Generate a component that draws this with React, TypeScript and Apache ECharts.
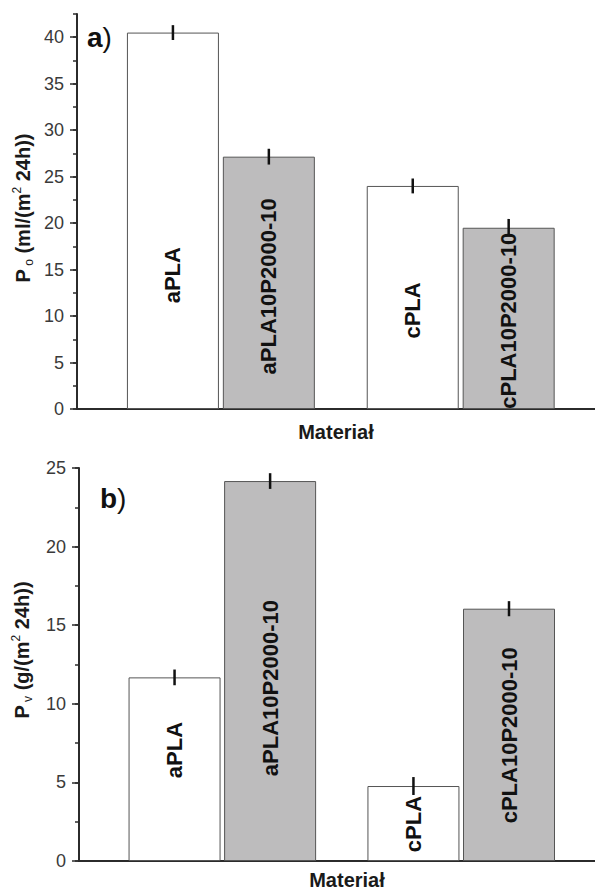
import React, { useEffect, useRef } from 'react';
import * as echarts from 'echarts';

const materials = ['aPLA', 'aPLA10P2000-10', 'cPLA', 'cPLA10P2000-10'];
const xPositions = [1, 2, 3.5, 4.5];
const oxygenPerm = [40.5, 27.15, 24.0, 19.5];
const oxygenErr = [0.8, 0.85, 0.8, 0.95];
const vaporPerm = [11.68, 24.17, 4.77, 16.05];
const vaporErr = [0.5, 0.5, 0.57, 0.48];
const oxygenLabelAt = [14.4, 13.2, 10.6, 9.5];
const vaporLabelAt = [7.06, 11.0, 2.35, 8.0];

const FONT = "'Liberation Sans', Arial, sans-serif";
const FILLS = ['#ffffff', '#bdbcbd', '#ffffff', '#bdbcbd'];
const AXIS_COLOR = '#2b2b2b';

function makeYAxes(gridIndex: number, max: number) {
  return [
    {
      type: 'value', gridIndex, min: 0, max, interval: 5, position: 'left',
      axisLine: { show: true, lineStyle: { color: AXIS_COLOR, width: 2 } },
      axisTick: { show: true, length: 7, lineStyle: { color: AXIS_COLOR, width: 1.5 } },
      axisLabel: { show: true, margin: 13, color: '#3a3a3a', fontSize: 18, fontFamily: FONT, showMaxLabel: max % 5 === 0 },
      splitLine: { show: false },
    },
    {
      type: 'value', gridIndex, min: 0, max, interval: 2.5, position: 'left',
      axisLine: { show: false },
      axisTick: { show: true, length: 4, lineStyle: { color: AXIS_COLOR, width: 1.5 } },
      axisLabel: { show: false },
      splitLine: { show: false },
    },
  ];
}

function makeXAxes(gridIndex: number, namePad: number, nameGap: number) {
  return [
    {
      type: 'value', gridIndex, min: 0, max: 5.4, position: 'bottom',
      axisLine: { show: true, onZero: false, lineStyle: { color: AXIS_COLOR, width: 2 } },
      axisTick: { show: false }, axisLabel: { show: false }, splitLine: { show: false },
      name: 'Materiał', nameLocation: 'middle', nameGap,
      nameTextStyle: { fontFamily: FONT, fontWeight: 'bold', fontSize: 20, color: '#1a1a1a', padding: [0, 0, 0, namePad] },
    },
    {
      type: 'value', gridIndex, min: 0, max: 5.4, position: 'top',
      axisLine: { show: true, lineStyle: { color: AXIS_COLOR, width: 2 } },
      axisTick: { show: false }, axisLabel: { show: false }, splitLine: { show: false },
    },
  ];
}

function makeSeries(xIdx: number, yIdx: number, values: number[], errs: number[], labelAt: number[]) {
  return [
    {
      type: 'bar', xAxisIndex: xIdx, yAxisIndex: yIdx, barWidth: 92,
      data: xPositions.map((x, i) => ({
        value: [x, values[i]],
        itemStyle: { color: FILLS[i], borderColor: '#555', borderWidth: 1 },
      })),
    },
    {
      type: 'custom', xAxisIndex: xIdx, yAxisIndex: yIdx, clip: false, z: 3,
      data: xPositions.map((x, i) => [x, labelAt[i]]),
      renderItem: (params: any, api: any) => {
        const p = api.coord([api.value(0), api.value(1)]);
        return {
          type: 'text', x: p[0], y: p[1], rotation: Math.PI / 2,
          style: {
            text: materials[params.dataIndex], align: 'center', verticalAlign: 'middle',
            font: `bold 22px ${FONT}`, fill: '#111',
          },
        };
      },
    },
    {
      type: 'custom', xAxisIndex: xIdx, yAxisIndex: yIdx, clip: false, z: 4,
      data: xPositions.map((x, i) => [x, values[i] - errs[i], values[i] + errs[i]]),
      renderItem: (params: any, api: any) => {
        const a = api.coord([api.value(0), api.value(1)]);
        const b = api.coord([api.value(0), api.value(2)]);
        return {
          type: 'line',
          shape: { x1: a[0], y1: a[1], x2: b[0], y2: b[1] },
          style: { stroke: '#111', lineWidth: 2.5 },
        };
      },
    },
  ];
}

const titleRich = {
  b: { fontFamily: FONT, fontWeight: 'bold', fontSize: 20, lineHeight: 24, verticalAlign: 'middle', fill: '#1a1a1a' },
  sub: { fontFamily: FONT, fontWeight: 'normal', fontSize: 12, lineHeight: 24, verticalAlign: 'bottom', fill: '#1a1a1a' },
  sup: { fontFamily: FONT, fontWeight: 'normal', fontSize: 12, lineHeight: 24, verticalAlign: 'top', fill: '#1a1a1a' },
};

const panelRich = {
  l: { fontFamily: FONT, fontWeight: 'bold', fontSize: 28, fill: '#111' },
  p: { fontFamily: FONT, fontWeight: 'normal', fontSize: 28, fill: '#111' },
};

export default function App() {
  const ref = useRef<HTMLDivElement>(null);
  useEffect(() => {
    if (!ref.current) return;
    const chart = echarts.init(ref.current, undefined, { renderer: 'svg' });
    chart.setOption({
      animation: false,
      backgroundColor: '#ffffff',
      grid: [
        { left: 77, top: 14, width: 518, height: 395 },
        { left: 79, top: 468, width: 516, height: 393 },
      ],
      xAxis: [...makeXAxes(0, 0, 13), ...makeXAxes(1, 20, 9)],
      yAxis: [...makeYAxes(0, 42.5), ...makeYAxes(1, 25)],
      series: [
        ...makeSeries(0, 0, oxygenPerm, oxygenErr, oxygenLabelAt),
        ...makeSeries(2, 2, vaporPerm, vaporErr, vaporLabelAt),
      ],
      graphic: [
        {
          type: 'text', x: 23, y: 208, rotation: Math.PI / 2,
          style: { text: '{b|P}{sub| o}{b| (ml/(m}{sup|2}{b| 24h))}', rich: titleRich, align: 'center', verticalAlign: 'middle' },
        },
        {
          type: 'text', x: 22, y: 650, rotation: Math.PI / 2,
          style: { text: '{b|P}{sub| v}{b| (g/(m}{sup|2}{b| 24h))}', rich: titleRich, align: 'center', verticalAlign: 'middle' },
        },
        {
          type: 'text', x: 87, y: 37,
          style: { text: '{l|a}{p|)}', rich: panelRich, align: 'left', verticalAlign: 'middle' },
        },
        {
          type: 'text', x: 100, y: 498,
          style: { text: '{l|b}{p|)}', rich: panelRich, align: 'left', verticalAlign: 'middle' },
        },
      ],
    });
    return () => chart.dispose();
  }, []);
  return <div ref={ref} style={{ position: 'fixed', left: 0, top: 0, width: 595, height: 891 }} />;
}
